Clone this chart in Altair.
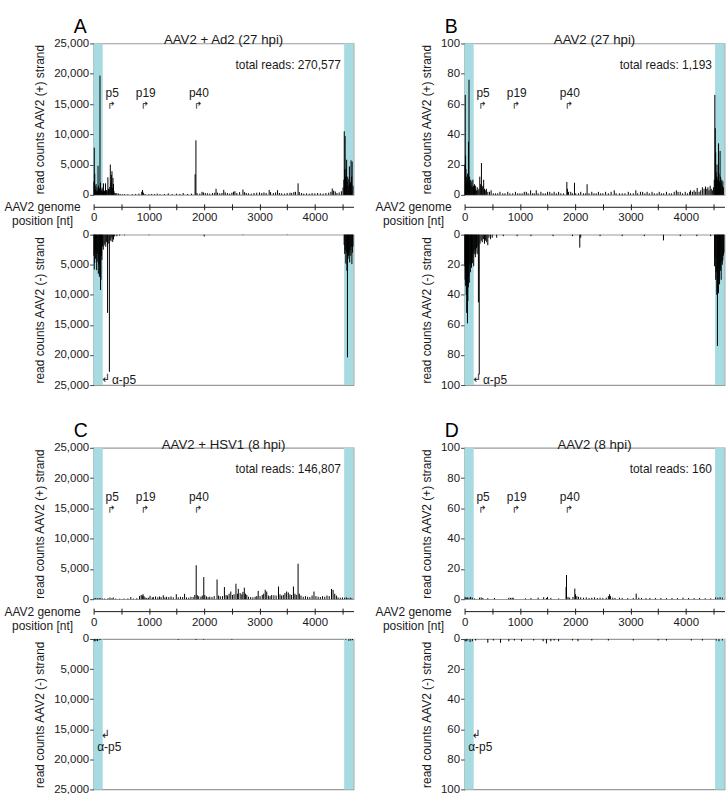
import altair as alt
import pandas as pd

# ---------------------------------------------------------------- constants
GENOME_END = 4700
ITR_START = [0, 4530]
ITR_END = [165, 4700]
GENOME_TICKS = list(range(0, 4501, 500))

PROMOTER_NAMES = ["p5", "p19", "p40"]
PROMOTER_NT = [263, 871, 1831]

PANEL_LETTERS = ["A", "B", "C", "D"]
CONDITIONS = ["AAV2 + Ad2 (27 hpi)", "AAV2 (27 hpi)", "AAV2 + HSV1 (8 hpi)", "AAV2 (8 hpi)"]
TOTAL_READS = ["270,577", "1,193", "146,807", "160"]
Y_MAX = [25000, 100, 25000, 100]

# read counts per genome position: (nt, reads)
A_PLUS = [(5, 2200), (12, 7800), (20, 3500), (28, 1500), (35, 900), (45, 1800), (55, 600), (62, 1200),
          (70, 700), (80, 4800), (88, 1500), (95, 800), (105, 1100), (115, 19700), (125, 2000), (135, 900),
          (145, 700), (155, 1200), (162, 500), (170, 800), (178, 1900), (186, 600), (195, 700), (205, 500),
          (215, 1900), (225, 600), (235, 800), (245, 600), (258, 2900), (270, 1000), (282, 900), (292, 1300),
          (302, 5000), (312, 2000), (322, 3300), (332, 3900), (340, 1200), (350, 2800), (360, 1800), (370, 600),
          (385, 300), (400, 250), (420, 300), (450, 200), (480, 150), (520, 100), (560, 120), (620, 100),
          (700, 120), (760, 150), (820, 200), (870, 500), (885, 800), (900, 350), (930, 150), (1000, 120),
          (1050, 150), (1100, 120), (1150, 200), (1200, 100), (1280, 150), (1350, 250), (1420, 120), (1500, 200),
          (1560, 150), (1620, 300), (1700, 150), (1770, 200), (1835, 3400), (1850, 9000), (1870, 300), (1920, 200),
          (1960, 500), (1985, 400), (2020, 300), (2060, 250), (2100, 200), (2150, 300), (2190, 350), (2214, 1000),
          (2240, 350), (2280, 250), (2320, 300), (2353, 820), (2380, 400), (2420, 300), (2460, 200), (2500, 350),
          (2530, 500), (2555, 600), (2590, 300), (2640, 450), (2700, 880), (2730, 450), (2760, 300), (2800, 250),
          (2850, 200), (2900, 300), (2950, 350), (3000, 400), (3040, 300), (3080, 400), (3120, 300), (3175, 820),
          (3200, 450), (3250, 300), (3290, 400), (3326, 770), (3360, 300), (3400, 250), (3450, 200), (3500, 300),
          (3550, 350), (3580, 300), (3620, 450), (3650, 500), (3697, 1900), (3720, 450), (3760, 300), (3800, 200),
          (3850, 250), (3900, 200), (3950, 300), (4000, 250), (4050, 300), (4100, 250), (4150, 200), (4200, 300),
          (4250, 350), (4290, 500), (4315, 1050), (4340, 700), (4370, 550), (4400, 300), (4440, 400), (4480, 600),
          (4510, 1200), (4525, 2500), (4532, 10500), (4540, 4200), (4548, 9700), (4556, 3000), (4565, 4300),
          (4575, 5800), (4585, 2200), (4595, 3000), (4605, 1500), (4615, 2600), (4625, 4700), (4635, 1800),
          (4645, 2100), (4655, 5700), (4665, 3000), (4675, 5500), (4690, 1500)]
A_MINUS = [(5, 3500), (12, 5800), (20, 4700), (28, 2500), (36, 4000), (45, 3000), (55, 5900), (65, 4500),
           (75, 3200), (85, 6500), (95, 5000), (105, 7000), (115, 4200), (125, 9200), (133, 7500), (142, 3500),
           (150, 4200), (160, 2000), (175, 2500), (190, 1800), (205, 1500), (220, 2000), (235, 1200), (252, 13000),
           (265, 1500), (285, 22800), (300, 900), (315, 1100), (330, 500), (345, 1200), (360, 800), (380, 300),
           (420, 250), (470, 150), (560, 100), (1000, 80), (2000, 300), (2700, 60), (3500, 60), (4530, 1700),
           (4540, 3200), (4550, 2500), (4560, 4800), (4570, 3000), (4580, 6000), (4590, 20400), (4600, 4000),
           (4610, 3500), (4620, 2800), (4630, 4600), (4640, 2500), (4650, 3500), (4660, 2000), (4670, 4900),
           (4680, 3000), (4690, 2000)]

B_PLUS = [(5, 20), (12, 66), (18, 26), (25, 17), (32, 12), (40, 8), (48, 10), (55, 14), (62, 6), (70, 35),
          (80, 76), (90, 12), (100, 8), (110, 10), (120, 6), (130, 9), (140, 5), (150, 10), (160, 6), (170, 5),
          (180, 7), (190, 4), (200, 6), (215, 3), (230, 5), (245, 3), (260, 4), (275, 12), (290, 7), (305, 21),
          (318, 5), (330, 6), (345, 10), (360, 4), (375, 3), (395, 4), (420, 2), (450, 2), (480, 3), (520, 1),
          (560, 1), (600, 1), (640, 2), (690, 1), (730, 1), (780, 2), (820, 1), (870, 1), (920, 2), (960, 1),
          (1000, 1), (1040, 1), (1080, 2), (1116, 2), (1150, 1), (1194, 3), (1230, 1), (1260, 1), (1296, 3),
          (1330, 1), (1380, 2), (1420, 1), (1460, 1), (1500, 2), (1540, 2), (1580, 1), (1620, 2), (1660, 1),
          (1700, 2), (1740, 1), (1790, 1), (1849, 8.5), (1860, 4), (1880, 2), (1920, 2), (1950, 1), (1987, 8),
          (2010, 1), (2060, 1), (2100, 2), (2150, 1), (2190, 1), (2215, 7), (2250, 1), (2300, 2), (2340, 1),
          (2380, 1), (2420, 2), (2460, 1), (2500, 1), (2550, 2), (2600, 1), (2650, 2), (2706, 3), (2740, 1),
          (2800, 1), (2850, 1), (2900, 1), (2960, 2), (3000, 1), (3050, 1), (3096, 3), (3130, 1), (3180, 2),
          (3220, 2), (3260, 1), (3300, 2), (3340, 1), (3390, 2), (3430, 1), (3480, 1), (3520, 2), (3560, 1),
          (3600, 1), (3650, 2), (3700, 1), (3740, 1), (3790, 2), (3829, 3), (3860, 2), (3900, 2), (3940, 1),
          (3990, 2), (4030, 1), (4070, 2), (4086, 3), (4120, 2), (4150, 3), (4180, 2), (4206, 4.5), (4240, 2),
          (4270, 3), (4300, 5), (4330, 4), (4356, 5.5), (4380, 4), (4400, 5), (4420, 3), (4440, 6), (4460, 4),
          (4480, 3), (4500, 5), (4515, 10), (4525, 66), (4533, 44), (4540, 28), (4548, 15), (4556, 12),
          (4565, 20), (4575, 10), (4585, 12), (4592, 34), (4600, 14), (4610, 9), (4620, 29), (4630, 12),
          (4640, 8), (4650, 10), (4660, 6), (4670, 9), (4680, 5)]
B_MINUS = [(5, 21), (10, 30), (15, 34), (22, 25), (30, 40), (38, 52), (45, 30), (52, 59), (60, 44), (68, 35),
           (75, 28), (85, 32), (95, 20), (105, 25), (115, 18), (125, 22), (135, 15), (145, 19), (155, 12),
           (165, 21), (175, 13), (185, 10), (195, 15), (205, 12), (215, 9), (228, 13), (240, 8), (250, 45),
           (265, 93), (280, 6), (300, 4), (320, 5), (340, 3), (360, 6), (380, 4), (400, 5), (420, 7), (440, 2),
           (470, 3), (500, 2), (580, 2), (700, 1), (950, 1), (1200, 1), (1600, 1), (1950, 1), (2083, 8.6),
           (2100, 2), (2450, 1), (2850, 1), (3250, 1), (3596, 3.8), (3900, 1), (4200, 1), (4450, 1),
           (4520, 21), (4530, 15), (4540, 30), (4550, 25), (4560, 40), (4572, 74), (4580, 38), (4590, 39),
           (4600, 28), (4610, 33), (4620, 22), (4630, 24), (4640, 30), (4650, 18), (4660, 20), (4670, 17),
           (4680, 14), (4690, 12)]

C_PLUS = [(10, 150), (40, 200), (70, 120), (100, 180), (130, 150), (160, 100), (200, 100), (260, 150),
          (295, 270), (330, 150), (355, 270), (400, 100), (470, 80), (550, 100), (620, 120), (672, 330),
          (720, 100), (780, 150), (830, 500), (860, 700), (880, 600), (894, 820), (910, 500), (930, 300),
          (960, 200), (990, 250), (1020, 550), (1060, 300), (1080, 350), (1120, 450), (1160, 300), (1190, 450),
          (1220, 350), (1260, 650), (1290, 300), (1320, 400), (1360, 350), (1400, 450), (1440, 300), (1495, 820),
          (1530, 300), (1570, 400), (1610, 350), (1645, 880), (1680, 300), (1720, 250), (1760, 400), (1800, 350),
          (1830, 700), (1855, 5600), (1875, 650), (1900, 500), (1940, 400), (1965, 600), (1992, 3650), (2010, 700),
          (2040, 450), (2070, 300), (2100, 400), (2140, 350), (2180, 500), (2232, 3250), (2260, 600), (2290, 450),
          (2330, 500), (2365, 2000), (2395, 700), (2420, 600), (2450, 900), (2480, 1260), (2510, 700), (2540, 800),
          (2574, 2550), (2600, 900), (2617, 1700), (2650, 1000), (2680, 800), (2700, 1200), (2725, 1900),
          (2745, 900), (2770, 700), (2800, 400), (2840, 350), (2880, 300), (2920, 400), (2950, 500), (2976, 1370),
          (3010, 500), (3050, 700), (3075, 900), (3103, 1550), (3130, 1260), (3160, 600), (3190, 500), (3220, 700),
          (3260, 650), (3300, 600), (3343, 2100), (3370, 800), (3400, 600), (3430, 700), (3460, 1000),
          (3490, 1260), (3520, 1100), (3550, 800), (3580, 700), (3613, 2100), (3640, 900), (3665, 700),
          (3697, 5850), (3720, 900), (3750, 600), (3790, 400), (3830, 500), (3870, 400), (3910, 350), (3950, 600),
          (3985, 1260), (4020, 500), (4060, 400), (4100, 350), (4140, 500), (4180, 400), (4220, 600), (4260, 500),
          (4302, 1680), (4330, 1530), (4360, 900), (4390, 600), (4420, 300), (4460, 250), (4500, 300), (4540, 250),
          (4570, 300), (4600, 200), (4640, 250), (4670, 150)]
C_MINUS = [(10, 300), (25, 400), (45, 250), (70, 350), (100, 200), (130, 150), (1530, 120), (1850, 150),
           (1990, 100), (2500, 100), (4560, 150), (4615, 300), (4650, 250), (4680, 200)]

D_PLUS = [(10, 1.5), (30, 1), (50, 1.2), (80, 1), (110, 1.5), (140, 1), (180, 0.5), (270, 1), (300, 1.2),
          (330, 0.8), (420, 0.7), (540, 0.8), (800, 1), (830, 0.8), (860, 1), (880, 0.8), (1100, 0.6),
          (1200, 0.8), (1330, 1), (1430, 1.3), (1480, 0.8), (1500, 1.5), (1560, 0.8), (1700, 0.5), (1835, 8),
          (1843, 16), (1870, 1.5), (1900, 1), (1960, 1.5), (1993, 7), (2005, 3.3), (2030, 2), (2060, 1.5),
          (2100, 1.2), (2150, 1), (2200, 1.2), (2250, 0.8), (2300, 1), (2350, 1.2), (2400, 0.8), (2450, 1),
          (2500, 0.8), (2560, 1), (2600, 2), (2622, 3.3), (2640, 2), (2680, 1), (2720, 0.8), (2800, 1),
          (2850, 0.8), (2950, 0.7), (3050, 0.8), (3103, 3.7), (3150, 1), (3200, 0.8), (3280, 0.7), (3350, 0.8),
          (3450, 0.8), (3550, 0.8), (3650, 0.7), (3750, 0.8), (3850, 0.7), (3950, 1), (4050, 0.8), (4150, 0.7),
          (4250, 0.8), (4350, 0.6), (4450, 0.5), (4540, 1.2), (4580, 1), (4620, 1.3), (4660, 1)]
D_MINUS = [(10, 1.5), (30, 1.5), (60, 1), (100, 2), (140, 1.5), (200, 1), (420, 2.5), (520, 1), (650, 2.5),
           (800, 1.5), (900, 1), (1030, 1.5), (1250, 1), (1420, 1.5), (1480, 3), (1560, 1.5), (1620, 1),
           (1700, 1.5), (1950, 1), (2050, 1.5), (2300, 1), (2600, 1), (3050, 1), (3500, 1), (3650, 1),
           (4100, 1), (4300, 1), (4550, 1), (4600, 1.5), (4660, 1)]

PLUS_DATA = [A_PLUS, B_PLUS, C_PLUS, D_PLUS]
MINUS_DATA = [A_MINUS, B_MINUS, C_MINUS, D_MINUS]
# antisense p5 label drawn on one line (top row) or stacked (bottom row)
ALPHA_STACKED = [False, False, True, True]

# ---------------------------------------------------------------- styling
W, H_TOP, H_BOT = 261, 152, 151
FONT = "Liberation Sans"
ARROW_FONT = "DejaVu Sans"
CYAN = "#a6dbe2"
INK = "#1a1a1a"

X_SCALE = alt.Scale(domain=[0, GENOME_END], nice=False, zero=False)
ITR_DF = pd.DataFrame({"start": ITR_START, "end": ITR_END})

GENOME_AXIS = alt.Axis(
    orient="bottom", offset=12, values=GENOME_TICKS, tickSize=3, tickColor=INK, tickWidth=1,
    domainColor=INK, domainWidth=1, labelExpr="datum.value % 1000 === 0 ? '' + datum.value : ''",
    labelFontSize=11.5, labelPadding=2, labelColor=INK, labelFlush=False, labelOverlap=False,
    title=None, grid=False)
UP_TICK_AXIS = alt.Axis(
    orient="bottom", offset=9, values=GENOME_TICKS, tickSize=3, tickColor=INK, tickWidth=1,
    domain=False, labels=False, title=None, grid=False)


def y_axis(ymax, sign):
    step = ymax // 5
    return alt.Axis(values=list(range(0, ymax + 1, step)), format=",d", tickSize=4, tickColor="#444",
                    domain=False, grid=False, labelFontSize=11.5, labelPadding=1, labelColor=INK,
                    title=f"read counts AAV2 ({sign}) strand", titleFontSize=12, titleFontWeight="normal",
                    titleColor=INK, titlePadding=7)


def strand_chart(i, plus):
    ymax = Y_MAX[i]
    data = PLUS_DATA[i] if plus else MINUS_DATA[i]
    bars_df = pd.DataFrame(data, columns=["nt", "reads"])
    ys = alt.Scale(domain=[0, ymax], nice=False, zero=True, reverse=not plus)
    xaxis = GENOME_AXIS if plus else None
    yaxis = y_axis(ymax, "+" if plus else "-")

    def xe(field):
        return alt.X(f"{field}:Q", scale=X_SCALE, axis=xaxis)

    def ye(field):
        return alt.Y(f"{field}:Q", scale=ys, axis=yaxis)

    itr = alt.Chart(ITR_DF).mark_rect(color=CYAN).encode(x=xe("start"), x2="end:Q")
    bars = alt.Chart(bars_df).mark_rule(color="black", strokeWidth=1).encode(
        x=xe("nt"), y=ye("reads"), y2=alt.datum(0))
    layers = [itr, bars]

    if plus:
        prom = pd.DataFrame({"nt": PROMOTER_NT, "name": PROMOTER_NAMES,
                             "ylab": [ymax * 0.675] * 3, "yarr": [ymax * 0.59] * 3, "arrow": ["↱"] * 3})
        layers.append(alt.Chart(prom).mark_text(fontSize=12, align="center", dx=4, color=INK).encode(
            x=xe("nt"), y=ye("ylab"), text="name:N"))
        layers.append(alt.Chart(prom).mark_text(fontSize=10, align="left", dx=-1, font=ARROW_FONT,
                                                color=INK).encode(x=xe("nt"), y=ye("yarr"), text="arrow:N"))
        txt = pd.DataFrame({"letter": [PANEL_LETTERS[i]], "cond": [CONDITIONS[i]],
                            "total": [f"total reads: {TOTAL_READS[i]}"],
                            "genome": ["AAV2 genome\nposition [nt]"]})
        layers.append(alt.Chart(txt).mark_text(fontSize=19.5, align="left", color="black").encode(
            x=alt.value(-20), y=alt.value(-16.5), text="letter:N"))
        layers.append(alt.Chart(txt).mark_text(fontSize=13.3, align="center", color=INK).encode(
            x=alt.value(W / 2), y=alt.value(-3), text="cond:N"))
        layers.append(alt.Chart(txt).mark_text(fontSize=12, align="right", color=INK).encode(
            x=alt.value(W - 12.6), y=alt.value(21.7), text="total:N"))
        layers.append(alt.Chart(txt).mark_text(fontSize=12, align="center", lineBreak="\n", lineHeight=14,
                                               color=INK).encode(
            x=alt.value(-51.3), y=alt.value(H_TOP + 12.5), text="genome:N"))
        ticks = alt.Chart(pd.DataFrame({"t": GENOME_TICKS})).mark_point(opacity=0).encode(
            x=alt.X("t:Q", scale=X_SCALE, axis=UP_TICK_AXIS))
        return alt.layer(alt.layer(*layers), ticks).resolve_scale(x="independent").properties(
            width=W, height=H_TOP)

    if ALPHA_STACKED[i]:
        ap = pd.DataFrame({"nt": [210, 65], "y": [ymax * 0.64, ymax * 0.72], "t": ["↲", "α-p5"]})
    else:
        ap = pd.DataFrame({"nt": [216, 331], "y": [ymax * 0.962, ymax * 0.964], "t": ["↲", "α-p5"]})
    arrow_df = ap.iloc[[0]]
    label_df = ap.iloc[[1]]
    layers.append(alt.Chart(arrow_df).mark_text(fontSize=11, align="center", font=ARROW_FONT,
                                                color=INK).encode(x=xe("nt"), y=ye("y"), text="t:N"))
    layers.append(alt.Chart(label_df).mark_text(fontSize=12, align="left", color=INK).encode(
        x=xe("nt"), y=ye("y"), text="t:N"))
    return alt.layer(*layers).properties(width=W, height=H_BOT)


def panel(i):
    return alt.vconcat(strand_chart(i, True), strand_chart(i, False), spacing=-1)


row1 = alt.hconcat(panel(0), panel(1), spacing=19.5)
row2 = alt.hconcat(panel(2), panel(3), spacing=19.5)

chart = alt.vconcat(row1, row2, spacing=28).properties(
    padding={"left": 3, "top": 14, "right": 1, "bottom": 1}
).configure(font=FONT).configure_view(stroke="#9a9a9a", strokeWidth=1.2)

chart.save("out.html", embed_options={"renderer": "svg", "actions": False})
